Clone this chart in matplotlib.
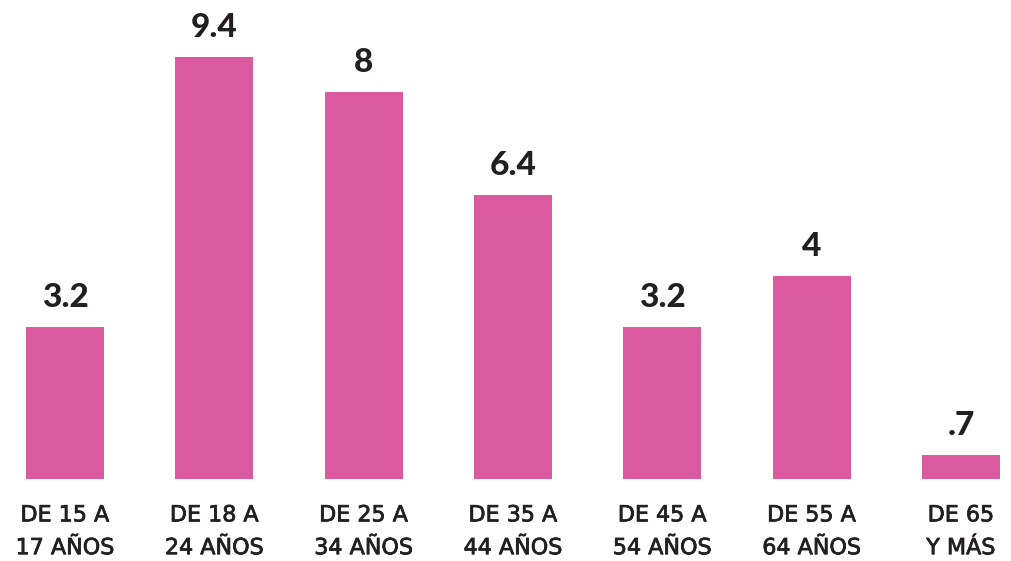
import matplotlib
matplotlib.use("Agg")
import matplotlib.pyplot as plt
import matplotlib.patheffects as pe

categories = ["DE 15 A\n17 AÑOS", "DE 18 A\n24 AÑOS", "DE 25 A\n34 AÑOS", "DE 35 A\n44 AÑOS",
              "DE 45 A\n54 AÑOS", "DE 55 A\n64 AÑOS", "DE 65\nY MÁS"]
# bar heights as drawn in the picture
bar_values = [3.39, 9.40, 8.62, 6.33, 3.39, 4.52, 0.53]
# value labels as printed above the bars
value_labels = ["3.2", "9.4", "8", "6.4", "3.2", "4", ".7"]

bar_color = "#DB5A9F"
text_color = "#231F20"

fig = plt.figure(figsize=(10.11, 5.61), dpi=100)
ax = fig.add_axes([0, 1 - 479 / 561, 1, 479 / 561])
x = list(range(len(categories)))
bars = ax.bar(x, bar_values, width=0.522, color=bar_color)
ax.set_xlim(-0.435, 6.335)
ax.set_ylim(0, 479 / 44.9)
for sp in ax.spines.values():
    sp.set_visible(False)
ax.set_yticks([])
ax.set_xticks(x)
labels = ax.set_xticklabels(categories, fontsize=16, fontfamily="DejaVu Sans", fontweight="normal",
                            color=text_color, linespacing=1.8)
for t in labels:
    t.set_path_effects([pe.withStroke(linewidth=0.55, foreground=text_color)])
ax.tick_params(axis="x", length=0, pad=19)

for xi, v, lab in zip(x, bar_values, value_labels):
    ax.annotate(lab, (xi, v), xytext=(0, 11), textcoords="offset points",
                ha="center", va="bottom", fontsize=24, fontfamily="Lato",
                fontweight="black", color=text_color)

fig.savefig("out.png", dpi=100)
